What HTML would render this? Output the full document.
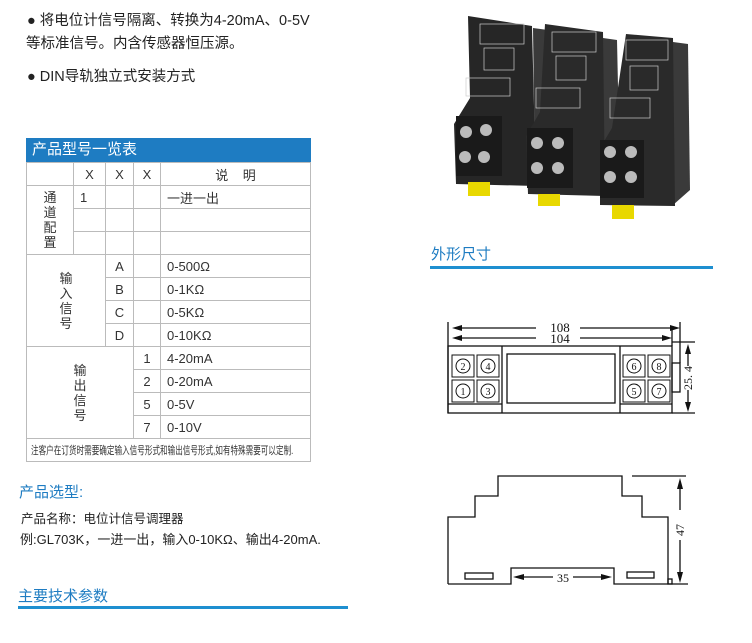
<!DOCTYPE html>
<html><head><meta charset="utf-8"><style>
body{margin:0;width:752px;height:643px;background:#fff;position:relative;overflow:hidden;font-family:"Liberation Sans","Noto Sans CJK SC",sans-serif;color:#222}
.a{position:absolute;white-space:nowrap}
table{border-collapse:collapse;position:absolute;left:26px;top:162px;width:285px;font-size:13px;color:#333;table-layout:fixed}
td{border:1px solid #bbb;padding:0 0 0 6px;height:22px;overflow:hidden}
.c{text-align:center;padding:0}
.v{text-align:center;padding:0;line-height:15px}
</style></head><body>
<div class="a" style="left:27px;top:9px;font-size:14.5px">● 将电位计信号隔离、转换为4-20mA、0-5V</div>
<div class="a" style="left:26px;top:32px;font-size:14.5px">等标准信号。内含传感器恒压源。</div>
<div class="a" style="left:27px;top:65px;font-size:14.5px">● DIN导轨独立式安装方式</div>

<div class="a" style="left:26px;top:138px;width:285px;height:24px;background:#1e7cc2;color:#fff;font-size:15px;line-height:24px;text-indent:6px">产品型号一览表</div>
<table>
<colgroup><col style="width:47px"><col style="width:32px"><col style="width:28px"><col style="width:27px"><col></colgroup>
<tr><td></td><td class="c">X</td><td class="c">X</td><td class="c">X</td><td class="c">说 &nbsp; &nbsp;明</td></tr>
<tr><td rowspan="3" class="v">通<br>道<br>配<br>置</td><td>1</td><td></td><td></td><td>一进一出</td></tr>
<tr><td></td><td></td><td></td><td></td></tr>
<tr><td></td><td></td><td></td><td></td></tr>
<tr><td rowspan="4" colspan="2" class="v">输<br>入<br>信<br>号</td><td class="c">A</td><td></td><td>0-500Ω</td></tr>
<tr><td class="c">B</td><td></td><td>0-1KΩ</td></tr>
<tr><td class="c">C</td><td></td><td>0-5KΩ</td></tr>
<tr><td class="c">D</td><td></td><td>0-10KΩ</td></tr>
<tr><td rowspan="4" colspan="3" class="v">输<br>出<br>信<br>号</td><td class="c">1</td><td>4-20mA</td></tr>
<tr><td class="c">2</td><td>0-20mA</td></tr>
<tr><td class="c">5</td><td>0-5V</td></tr>
<tr><td class="c">7</td><td>0-10V</td></tr>
<tr><td colspan="5" style="padding-left:4px;white-space:nowrap"><span style="display:inline-block;font-size:11px;transform:scaleX(0.69);transform-origin:left center">注客户在订货时需要确定输入信号形式和输出信号形式,如有特殊需要可以定制.</span></td></tr>
</table>

<div class="a" style="left:19px;top:481px;font-size:15px;color:#1e7cc2">产品选型:</div>
<div class="a" style="left:21px;top:508px;font-size:12.5px">产品名称：电位计信号调理器</div>
<div class="a" style="left:20px;top:529px;font-size:13px">例:GL703K，一进一出，输入0-10KΩ、输出4-20mA.</div>
<div class="a" style="left:18px;top:585px;font-size:15px;color:#1e7cc2">主要技术参数</div>
<div class="a" style="left:18px;top:606px;width:330px;height:3px;background:#1e8fd0"></div>

<div class="a" style="left:431px;top:243px;font-size:15px;color:#1e7cc2">外形尺寸</div>
<div class="a" style="left:430px;top:266px;width:283px;height:3px;background:#1e8fd0"></div>

<svg class="a" style="left:0;top:0" width="752" height="643">
<g>
<polygon points="533,28 548,30 552,170 535,185" fill="#3a3a3a"/>
<polygon points="468,16 532,26 536,186 456,184 454,124 470,98" fill="#262626"/>
<g stroke="#ccc" stroke-width="0.7" fill="none"><rect x="480" y="24" width="44" height="20"/><rect x="484" y="48" width="30" height="22"/><rect x="466" y="78" width="44" height="18"/></g>
<rect x="456" y="116" width="46" height="60" fill="#1a1a1a"/>
<circle cx="466" cy="132" r="6" fill="#bbb"/><circle cx="486" cy="130" r="6" fill="#bbb"/>
<circle cx="465" cy="157" r="6" fill="#bbb"/><circle cx="484" cy="157" r="6" fill="#bbb"/>
<rect x="468" y="182" width="22" height="14" fill="#e8d800"/>
<polygon points="603,38 617,40 620,180 603,195" fill="#3a3a3a"/>
<polygon points="545,24 603,32 605,196 528,194 526,136 540,112" fill="#2a2a2a"/>
<g stroke="#ccc" stroke-width="0.7" fill="none"><rect x="552" y="32" width="44" height="20"/><rect x="556" y="56" width="30" height="24"/><rect x="536" y="88" width="44" height="20"/></g>
<rect x="527" y="128" width="46" height="60" fill="#1a1a1a"/>
<circle cx="537" cy="143" r="6" fill="#bbb"/><circle cx="558" cy="143" r="6" fill="#bbb"/>
<circle cx="537" cy="168" r="6" fill="#bbb"/><circle cx="558" cy="168" r="6" fill="#bbb"/>
<rect x="538" y="194" width="22" height="12" fill="#e8d800"/>
<polygon points="673,42 688,44 690,190 673,205" fill="#3a3a3a"/>
<polygon points="626,34 673,38 675,206 600,205 600,148 612,128" fill="#2a2a2a"/>
<g stroke="#ccc" stroke-width="0.7" fill="none"><rect x="626" y="40" width="42" height="20"/><rect x="630" y="66" width="28" height="24"/><rect x="610" y="98" width="40" height="20"/></g>
<rect x="600" y="140" width="44" height="58" fill="#1a1a1a"/>
<circle cx="610" cy="152" r="6" fill="#bbb"/><circle cx="631" cy="152" r="6" fill="#bbb"/>
<circle cx="610" cy="177" r="6" fill="#bbb"/><circle cx="631" cy="177" r="6" fill="#bbb"/>
<rect x="612" y="205" width="22" height="14" fill="#e8d800"/>
</g>
<g stroke="#111" stroke-width="1.3" fill="none">
<line x1="448" y1="322" x2="448" y2="413"/>
<line x1="672" y1="330" x2="672" y2="346"/>
<line x1="680" y1="322" x2="680" y2="363"/>
<rect x="448" y="346" width="224" height="67"/>
<line x1="502" y1="346" x2="502" y2="413"/><line x1="620" y1="346" x2="620" y2="413"/>
<rect x="507" y="354" width="108" height="49"/>
<rect x="672" y="363" width="8" height="29"/>
<line x1="448" y1="404" x2="502" y2="404"/><line x1="620" y1="404" x2="672" y2="404"/>
<line x1="672" y1="342" x2="695" y2="342"/><line x1="672" y1="413" x2="695" y2="413"/>
<line x1="688" y1="348" x2="688" y2="366"/><line x1="688" y1="390" x2="688" y2="408"/>
<line x1="456" y1="328" x2="536" y2="328"/><line x1="580" y1="328" x2="676" y2="328"/>
<line x1="456" y1="338" x2="536" y2="338"/><line x1="580" y1="338" x2="668" y2="338"/>
</g>
<g fill="#111">
<polygon points="452,328 462,325 462,331"/><polygon points="680,328 670,325 670,331"/>
<polygon points="452,338 462,335 462,341"/><polygon points="672,338 662,335 662,341"/>
<polygon points="688,344 685,354 691,354"/><polygon points="688,412 685,402 691,402"/>
</g>
<g stroke="#111" stroke-width="1" fill="none">
<rect x="452" y="355" width="22" height="22"/><rect x="477" y="355" width="22" height="22"/>
<rect x="452" y="380" width="22" height="22"/><rect x="477" y="380" width="22" height="22"/>
<rect x="623" y="355" width="22" height="22"/><rect x="648" y="355" width="22" height="22"/>
<rect x="623" y="380" width="22" height="22"/><rect x="648" y="380" width="22" height="22"/>
<circle cx="463" cy="366" r="7"/><circle cx="488" cy="366" r="7"/>
<circle cx="463" cy="391" r="7"/><circle cx="488" cy="391" r="7"/>
<circle cx="634" cy="366" r="7"/><circle cx="659" cy="366" r="7"/>
<circle cx="634" cy="391" r="7"/><circle cx="659" cy="391" r="7"/>
</g>
<g font-family="Liberation Serif,serif" font-size="10" text-anchor="middle" fill="#111">
<text x="463" y="370">2</text><text x="488" y="370">4</text><text x="463" y="395">1</text><text x="488" y="395">3</text>
<text x="634" y="370">6</text><text x="659" y="370">8</text><text x="634" y="395">5</text><text x="659" y="395">7</text>
<text x="560" y="332" font-size="13">108</text><text x="560" y="343" font-size="13">104</text>
<text x="0" y="0" font-size="12" transform="translate(692,378) rotate(-90)">25. 4</text>
<text x="0" y="0" font-size="12" transform="translate(684,530) rotate(-90)">47</text>
<text x="563" y="582" font-size="12">35</text>
</g>
<g stroke="#111" stroke-width="1.3" fill="none">
<polyline points="448,584 448,517 475,517 475,496 498,496 498,476 622,476 622,496 642,496 642,517 668,517 668,584"/>
<polyline points="448,584 511,584 511,568 614,568 614,584 688,584"/>
<rect x="465" y="573" width="28" height="6"/><rect x="627" y="572" width="27" height="6"/>
<line x1="632" y1="476" x2="686" y2="476"/>
<line x1="680" y1="486" x2="680" y2="510"/><line x1="680" y1="540" x2="680" y2="575"/>
<line x1="523" y1="577" x2="553" y2="577"/><line x1="573" y1="577" x2="603" y2="577"/>
<rect x="668" y="579" width="4" height="5"/>
</g>
<g fill="#111">
<polygon points="680,478 677,489 683,489"/><polygon points="680,583 677,572 683,572"/>
<polygon points="513,577 524,574 524,580"/><polygon points="612,577 601,574 601,580"/>
</g>
</svg>
</body></html>
